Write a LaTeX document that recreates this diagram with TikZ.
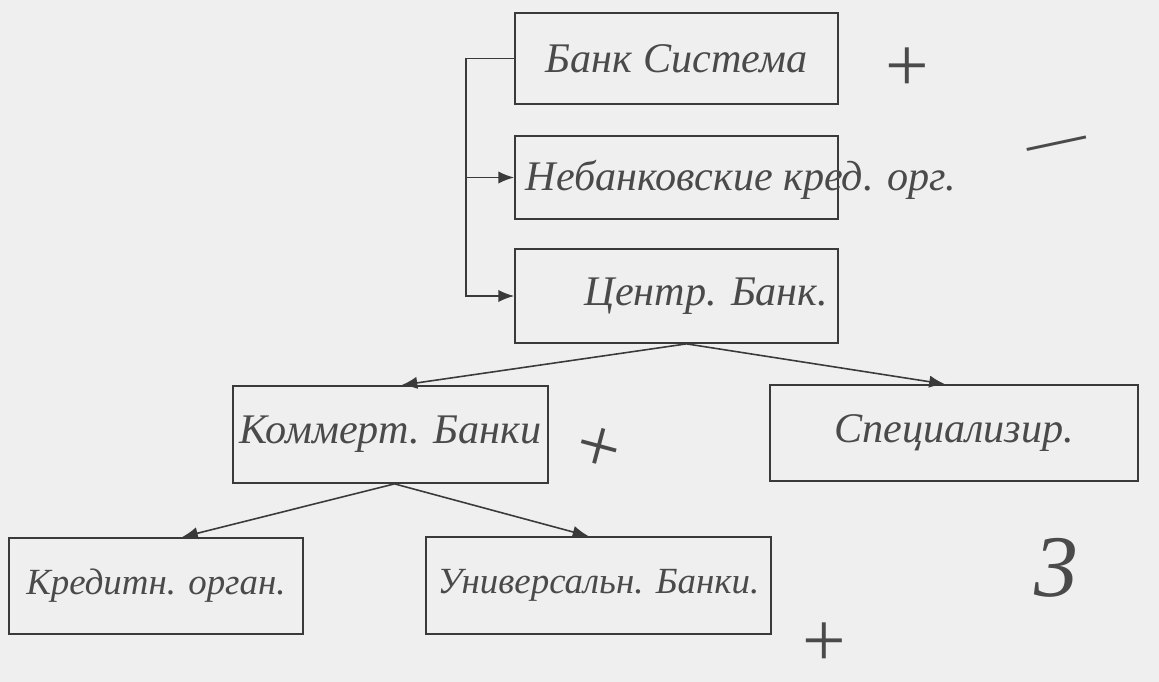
\documentclass[tikz,border=0pt]{standalone}
\usepackage{fontspec}
\setmainfont{Liberation Serif}
\usetikzlibrary{arrows.meta}
\definecolor{paper}{HTML}{EFEFEF}
\definecolor{ink}{HTML}{3A3A3A}
\definecolor{pen}{HTML}{4A4A4A}
\begin{document}
\begin{tikzpicture}[x=0.02cm, y=-0.02cm,
    every node/.style={inner sep=2pt, text=pen, font=\fontsize{24}{28}\selectfont\itshape},
    box/.style={draw=ink, line width=1pt, rectangle},
    small/.style={font=\fontsize{21}{25}\selectfont\itshape},
    link/.style={draw=ink, line width=0.9pt},
    arrow/.style={link, -{Latex[length=9pt, width=7pt]}},
    tick/.style={inner sep=0pt, font=\fontsize{44}{44}\selectfont}
]

% paper
\fill[paper] (0,0) rectangle (1159,682);

% (1) top column
\node[box, minimum width=6.46cm, minimum height=1.82cm] (bank) at (676.5,58.5) {Банк Система};
\node[box, minimum width=6.46cm, minimum height=1.66cm] (nonbank) at (676.5,177.5) {};
\node[anchor=west] (nonbanktxt) at (522,180) {Небанковские кред. орг.};
\node[box, minimum width=6.46cm, minimum height=1.88cm] (central) at (676.5,296) {\hspace{1.2cm}Центр. Банк.};

\coordinate (turn) at ([xshift=-0.96cm]bank.west);
\draw[link] (bank.west) -- (turn);
\draw[arrow] (turn) |- (central.west);
\draw[arrow] (turn |- nonbank.west) -- (nonbank.west);

% (2) second row
\node[box, minimum width=6.3cm, minimum height=1.94cm] (comm) at (390.5,434.5) {Коммерт. Банки};
\node[box, minimum width=7.36cm, minimum height=1.92cm] (spec) at (954,433) {Специализир.};

\draw[arrow] ([xshift=0.2cm]central.south) -- ([xshift=0.22cm]comm.north);
\draw[arrow] ([xshift=0.2cm]central.south) -- ([xshift=-0.18cm]spec.north);

% (3) bottom row
\node[box, small, minimum width=5.88cm, minimum height=1.92cm] (credit) at (156,586) {Кредитн. орган.};
\node[box, small, minimum width=6.9cm, minimum height=1.94cm] (univ) at (598.5,585.5) {Универсальн. Банки.};

\draw[arrow] ([xshift=0.08cm]comm.south) -- ([xshift=0.52cm]credit.north);
\draw[arrow] ([xshift=0.08cm]comm.south) -- ([xshift=-0.2cm]univ.north);

% marks
\node[tick] (plus1) at (907,70) {+};
\node[tick, rotate=12] (minus1) at (1058,150) {\fontsize{34}{34}\selectfont —};
\node[tick, rotate=-15] (plus2) at (598,450) {+};
\node[tick, font=\fontsize{50}{50}\selectfont\itshape] (three) at (1056,568) {3};
\node[tick] (plus3) at (824,645) {+};

\end{tikzpicture}
\end{document}
